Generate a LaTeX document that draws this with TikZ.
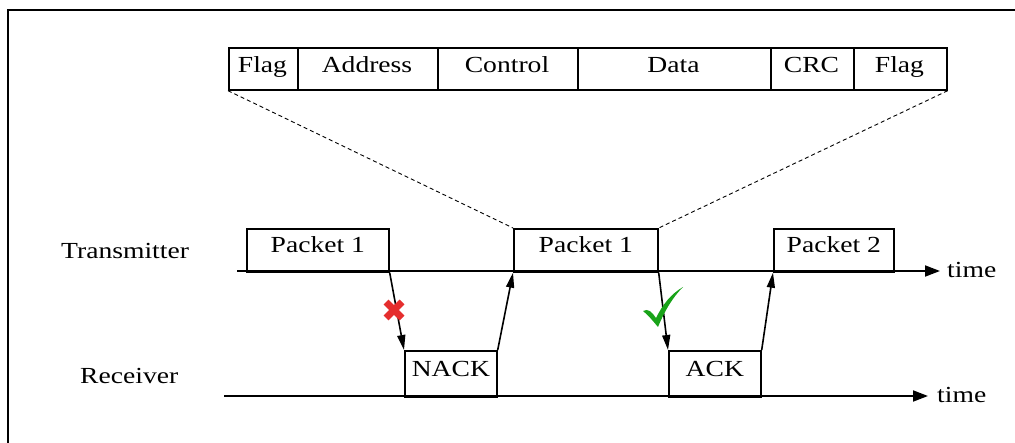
\documentclass[tikz,border=0pt]{standalone}
\usepackage{fontspec}
\setmainfont[FakeStretch=1.2]{Liberation Serif}
\usetikzlibrary{arrows.meta,calc}
\begin{document}
\begin{tikzpicture}[x=1pt,y=-1pt,
  lbl/.style={font=\fontsize{23}{26}\selectfont},
  fbox/.style={draw,line width=1.7pt,inner sep=0pt,anchor=north west},
  tline/.style={line width=1.8pt,-{Triangle[length=15pt,width=11pt]}},
  sig/.style={line width=1.6pt,-{Triangle[length=15pt,width=8pt]}}]
\useasboundingbox (0,0) rectangle (1015,443);
\draw[line width=2pt] (8,450) -- (8,10) -- (1020,10);
% frame fields
\foreach \a/\b/\t/\n in {228/297/Flag/f1,297/437/Address/f2,437/577/Control/f3,577/770/Data/f4,770/853/CRC/f5,853/946/Flag/f6}{
  \node[fbox,minimum width=\b-\a,minimum height=42] (\n) at (\a,47) {};
  \node[lbl,anchor=base] at ($(\a,0)!0.5!(\b,0)+(0,73)$) {\t};
}
% packets
\node[fbox,minimum width=142,minimum height=43] (p1) at (246,228) {};
\node[lbl,anchor=base] at ($(p1.south)+(0,-20)$) {Packet 1};
\node[fbox,minimum width=144,minimum height=43] (p2) at (513,228) {};
\node[lbl,anchor=base] at ($(p2.south)+(0,-20)$) {Packet 1};
\node[fbox,minimum width=120,minimum height=43] (p3) at (773,228) {};
\node[lbl,anchor=base] at ($(p3.south)+(0,-20)$) {Packet 2};
\node[fbox,minimum width=92,minimum height=46] (nack) at (404,350) {};
\node[lbl,anchor=base] at ($(nack.south)+(0,-21)$) {NACK};
\node[fbox,minimum width=92,minimum height=46] (ack) at (668,350) {};
\node[lbl,anchor=base] at ($(ack.south)+(0,-21)$) {ACK};
% dashed zoom lines
\draw[line width=0.9pt,dash pattern=on 4pt off 3pt] (f1.south west) -- (p2.north west);
\draw[line width=0.9pt,dash pattern=on 4pt off 3pt] (f6.south east) -- (p2.north east);
% time axes
\coordinate (t0) at (237,271);
\coordinate (t1) at (940,271);
\draw[tline] (t0) -- (t1);
\node[lbl,anchor=base west,inner sep=0pt] (tt) at (947,278) {time};
\coordinate (r0) at (224,396);
\coordinate (r1) at (928,396);
\draw[tline] (r0) -- (r1);
\node[lbl,anchor=base west,inner sep=0pt] (rt) at (937,403) {time};
\node[lbl,anchor=base west,inner sep=0pt] (tx) at (61,259) {Transmitter};
\node[lbl,anchor=base west,inner sep=0pt] (rx) at (80,384) {Receiver};
% signal arrows
\draw[sig] (p1.south east) -- (nack.north west);
\draw[sig] (nack.north east) -- (p2.south west);
\draw[sig] (p2.south east) -- (ack.north west);
\draw[sig] (ack.north east) -- (p3.south west);
% red cross
\draw[line width=7pt,red!80!white!90!black] (386,302) -- (402,318) (402,302) -- (386,318);
% green check
\fill[green!60!black!90!white] (643,311) .. controls (648,308) and (652,312) .. (656,318)
  .. controls (663,304) and (671,294) .. (683,287)
  .. controls (673,297) and (665,310) .. (658,327)
  .. controls (653,321) and (648,315) .. (643,311) -- cycle;
\end{tikzpicture}
\end{document}
